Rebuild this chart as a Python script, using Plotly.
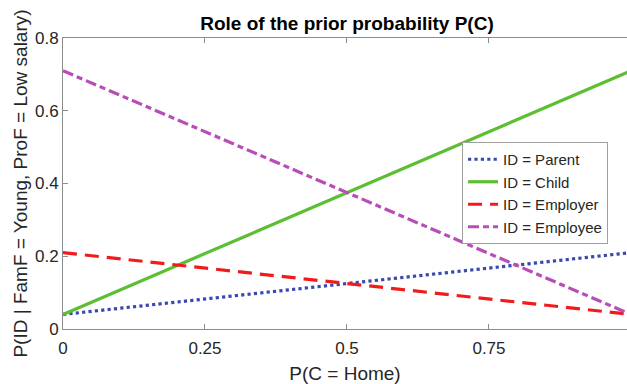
import plotly.graph_objects as go

x_vals = [0, 1]
parent = [0.04, 0.21]
child = [0.04, 0.71]
employer = [0.21, 0.04]
employee = [0.71, 0.04]

x_ticks = [0, 0.25, 0.5, 0.75]
x_tick_text = ["0", "0.25", "0.5", "0.75"]
y_ticks = [0, 0.2, 0.4, 0.6, 0.8]
y_tick_text = ["0", "0.2", "0.4", "0.6", "0.8"]

series = [
    ("ID = Parent", parent, "#3A48B0", "dot"),
    ("ID = Child", child, "#5CBF32", "solid"),
    ("ID = Employer", employer, "#F21B1B", "14px,8px"),
    ("ID = Employee", employee, "#B84DB8", "11px,4px,6px,4px"),
]

fig = go.Figure()
for name, vals, color, dash in series:
    fig.add_trace(go.Scatter(x=x_vals, y=vals, mode="lines", name=name,
                             line=dict(color=color, width=3.2, dash=dash)))

font = "Liberation Sans, Arial, sans-serif"
fig.update_layout(
    width=627, height=384,
    margin=dict(l=63, r=0, t=38, b=55, autoexpand=False),
    paper_bgcolor="white", plot_bgcolor="white",
    font=dict(family=font, color="#262626"),
    title=dict(text="<b>Role of the prior probability P(C)</b>", x=347 / 627, xanchor="center",
               y=1 - 23 / 384, yanchor="middle", font=dict(size=19, color="black")),
    showlegend=True,
    legend=dict(x=0.7075, y=0.6426, xanchor="left", yanchor="top",
                bgcolor="white", bordercolor="#A0A0A0", borderwidth=1,
                font=dict(size=15, color="#262626"), tracegroupgap=0,
                itemwidth=30),
    xaxis=dict(range=[0, 0.993], tickvals=x_ticks, ticktext=x_tick_text, automargin=False,
               showgrid=False, zeroline=False, showline=True, linecolor="#8C8C8C",
               linewidth=1, mirror="ticks", ticks="inside", ticklen=5, tickcolor="#8C8C8C",
               ticklabelstandoff=4,
               tickfont=dict(size=17), title=dict(text="P(C = Home)", font=dict(size=19), standoff=9)),
    yaxis=dict(range=[0, 0.8], tickvals=y_ticks, ticktext=y_tick_text, automargin=False,
               showgrid=False, zeroline=False, showline=True, linecolor="#8C8C8C",
               linewidth=1, mirror=False, ticks="inside", ticklen=5, tickcolor="#8C8C8C",
               tickfont=dict(size=17),
               title=dict(text="P(ID | FamF = Young, ProF = Low salary)", font=dict(size=19), standoff=2)),
)

fig.write_html("out.html", config={"displayModeBar": False},
               post_script="document.body.style.margin='0';document.body.style.overflow='hidden';")
